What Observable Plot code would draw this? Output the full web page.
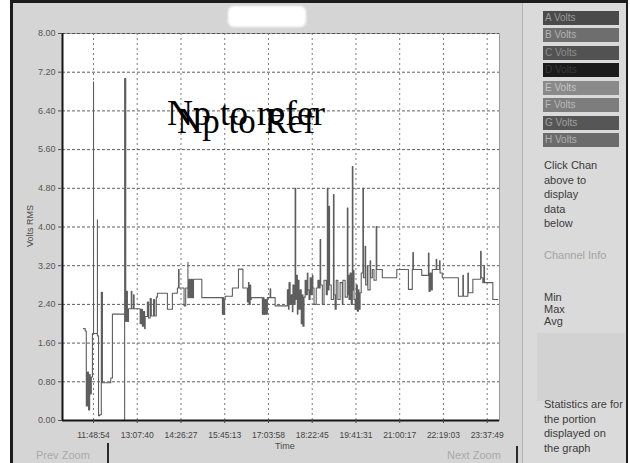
<!DOCTYPE html>
<html>
<head>
<meta charset="utf-8">
<script src="https://cdn.jsdelivr.net/npm/d3@7"></script>
<script src="https://cdn.jsdelivr.net/npm/@observablehq/plot@0.6"></script>
<style>
  html, body { margin: 0; padding: 0; }
  body { width: 630px; height: 463px; overflow: hidden; background: #fff; position: relative;
         font-family: "Liberation Sans", Arial, sans-serif; }
  .abs { position: absolute; }
  #frame { left: 10px; top: 0; width: 618px; height: 470px; box-sizing: border-box;
           border: 3px solid #1c1c1c; border-bottom: none; background: #d5d5d5; }
  #side { left: 522px; top: 3px; width: 103px; height: 460px; background: #dadada;
          border-left: 1px solid #b4b4b4; }
  #titlebox { left: 228px; top: 6px; width: 78px; height: 21px; background: #fff;
              border-radius: 6px; filter: blur(1px); }
  #chart { left: 0; top: 0; }
  .btn { left: 543px; width: 76px; height: 14px; font-size: 10px; line-height: 14px;
         padding-left: 2px; box-sizing: border-box; white-space: nowrap; overflow: hidden; }
  .side-text { left: 544px; font-size: 11px; line-height: 14.5px; color: #3a3a3a; }
  .zoomlink { font-size: 11px; color: #a9a9a9; top: 449px; }
  .sep { width: 2px; background: #2a2a2a; }
  .stamp { font-family: "Liberation Serif", "Times New Roman", serif; color: #000;
           line-height: 1; white-space: nowrap; }
  .axis-title { font-size: 9px; color: #4a4a4a; white-space: nowrap; }
</style>
</head>
<body>
<div id="frame" class="abs"></div>
<div id="side" class="abs"></div>
<div id="titlebox" class="abs"></div>
<div id="chart" class="abs"></div>
<div id="overlay"></div>
<script>
// Time axis tick labels (hh:mm:ss) and volt tick labels
const timeTicks = ["11:48:54", "13:07:40", "14:26:27", "15:45:13", "17:03:58",
                   "18:22:45", "19:41:31", "21:00:17", "22:19:03", "23:37:49"];
const voltTicks = ["0.00", "0.80", "1.60", "2.40", "3.20", "4.00",
                   "4.80", "5.60", "6.40", "7.20", "8.00"];

// Visible time window (hh:mm:ss)
const windowStart = "10:53:07";
const windowEnd = "24:00:00";

// Logged RMS readings: sample time and volts
const times = [
  "11:31","11:34","11:36","11:38","11:40","11:42","11:43","11:45","11:47","11:49",
  "11:49","11:56","11:56","11:58","12:00","12:03","12:05","12:20","12:23","12:45",
  "12:45","12:47","12:48","12:50","12:52","12:57","12:58","13:01","13:02","13:13",
  "13:15","13:17","13:19","13:21","13:22","13:26","13:28","13:31","13:33","13:37",
  "13:39","13:42","13:44","14:02","14:11","14:20","14:22","14:23","14:32","14:35",
  "14:39","14:39","14:41","14:43","14:45","14:47","14:49","15:04","15:41","15:42",
  "15:43","15:45","15:46","15:59","16:10","16:18","16:26","16:28","16:29","16:31",
  "16:32","16:33","16:53","16:55","16:56","16:58","17:00","17:02","17:07","17:08",
  "17:16","17:38","17:40","17:41","17:43","17:45","17:47","17:48","17:50","17:52",
  "17:53","17:54","17:56","17:57","17:59","18:01","18:03","18:05","18:06","18:08",
  "18:10","18:12","18:14","18:15","18:17","18:19","18:21","18:23","18:24","18:26",
  "18:30","18:33","18:35","18:37","18:38","18:41","18:44","18:48","18:50","18:51",
  "18:53","18:54","18:57","19:01","19:02","19:04","19:06","19:09","19:13","19:17",
  "19:18","19:22","19:26","19:27","19:28","19:29","19:31","19:33","19:35","19:36",
  "19:37","19:38","19:40","19:42","19:44","19:46","19:47","19:49","19:51","19:54",
  "19:55","19:58","19:59","20:02","20:03","20:07","20:08","20:11","20:14","20:18",
  "20:19","20:29","20:55","21:16","21:23","21:24","21:25","21:40","21:52","21:53",
  "21:55","21:57","21:59","22:06","22:07","22:12","22:13","22:17","22:46","22:54",
  "22:55","23:03","23:04","23:12","23:26","23:27","23:30","23:32","23:33","23:48",
  "23:57"
];
const volts = [
  1.90,1.85,0.30,1.00,0.22,0.95,0.55,0.90,1.80,7.00,
  1.80,4.15,1.75,0.10,0.12,2.65,0.78,0.88,2.20,0.00,
  7.07,2.05,2.67,2.05,2.31,2.67,2.31,2.60,2.31,2.00,
  2.30,1.95,2.25,1.90,2.15,2.45,2.12,2.52,2.16,2.50,
  2.16,2.55,2.63,2.30,2.63,2.74,3.12,2.74,2.37,2.74,
  3.27,2.54,2.92,2.54,2.92,2.54,2.92,2.54,2.20,2.54,
  2.19,2.50,2.57,2.74,3.13,2.74,2.45,2.85,2.40,2.80,
  2.50,2.54,2.20,2.54,2.19,2.50,2.20,2.54,2.72,2.54,
  2.37,2.70,2.30,2.85,2.40,2.60,2.25,2.80,2.40,4.80,
  2.50,3.00,2.20,2.90,2.30,2.70,2.00,2.60,1.95,2.55,
  2.90,2.60,3.05,2.70,2.50,2.95,2.60,3.00,2.74,2.40,
  2.74,2.90,2.74,3.74,2.80,2.40,2.90,2.60,4.80,2.70,
  4.43,2.80,2.50,4.67,2.60,2.30,2.90,2.50,2.85,2.40,
  2.90,2.55,4.39,2.60,3.00,2.50,3.05,2.40,5.25,2.70,
  3.10,2.50,2.30,2.80,2.26,2.70,2.30,2.64,3.05,4.80,
  2.95,3.60,2.80,3.20,2.70,3.30,2.95,3.12,2.90,4.01,
  3.12,2.95,3.12,2.71,3.12,3.47,3.12,3.00,3.46,2.67,
  3.05,2.70,3.12,3.33,3.12,3.30,3.05,2.95,2.57,3.00,
  2.57,3.05,2.64,2.92,3.50,2.95,2.85,3.20,2.85,2.50,
  2.50
];

// Channel selector buttons on the side panel
const channels = ["A Volts", "B Volts", "C Volts", "D Volts", "E Volts", "F Volts", "G Volts", "H Volts"];
const channelFill = ["#4a4a4a", "#6e6e6e", "#525252", "#1b1b1b", "#8a8a8a", "#7d7d7d", "#565656", "#6b6b6b"];
const channelInk = ["#9a9a9a", "#b4b4b4", "#8e8e8e", "#3a3a3a", "#c4c4c4", "#b9b9b9", "#a0a0a0", "#b0b0b0"];

const toSec = s => { const p = s.split(":").map(Number); return p[0] * 3600 + p[1] * 60 + (p[2] || 0); };

const readings = times.map((t, i) => ({ t: toSec(t), v: volts[i] }));
const xTickValues = timeTicks.map(toSec);
const xTickText = new Map(xTickValues.map((s, i) => [s, timeTicks[i]]));
const yTickValues = voltTicks.map(Number);
const xDomain = [toSec(windowStart), toSec(windowEnd)];

const chart = Plot.plot({
  width: 520,
  height: 463,
  marginLeft: 62,
  marginRight: 21,
  marginTop: 33,
  marginBottom: 43,
  style: { background: "transparent", fontFamily: "'Liberation Sans', Arial, sans-serif", overflow: "visible" },
  x: { type: "linear", domain: xDomain },
  y: { domain: [0, 8] },
  marks: [
    Plot.frame({ fill: "#fff", stroke: "#9a9a9a" }),
    Plot.gridY(yTickValues, { stroke: "#4d4d4d", strokeOpacity: 0.9, strokeDasharray: "3,2" }),
    Plot.gridX(xTickValues, { stroke: "#6d6d6d", strokeOpacity: 0.9, strokeDasharray: "2,3" }),
    Plot.lineY(readings, { x: "t", y: "v", curve: "step-after", stroke: "#5e5e5e", strokeWidth: 1.1 }),
    Plot.ruleX([xDomain[0]], { stroke: "#151515", strokeWidth: 2 }),
    Plot.ruleY([0], { stroke: "#151515", strokeWidth: 2 }),
    Plot.axisY(yTickValues, { tickFormat: d => d.toFixed(2), tickSize: 4, tickPadding: 3, fontSize: 9, color: "#555", label: null }),
    Plot.axisX(xTickValues, { tickFormat: d => xTickText.get(d), tickSize: 3, tickPadding: 8, fontSize: 8.5, color: "#444", label: null })
  ]
});
document.getElementById("chart").append(chart);

// Surrounding panel text and controls
const overlay = document.getElementById("overlay");
function addDiv(cls, text, css) {
  const d = document.createElement("div");
  d.className = "abs " + cls;
  d.textContent = text;
  Object.assign(d.style, css);
  overlay.append(d);
  return d;
}

addDiv("axis-title", "Time", { left: "275px", top: "441px" });
addDiv("axis-title", "Volts RMS", { left: "8px", top: "221px", width: "44px", textAlign: "center", transform: "rotate(-90deg)" });

const btnTops = [11, 28, 46, 63, 81, 98, 116, 133];
channels.forEach((c, i) => addDiv("btn", c, { top: btnTops[i] + "px", background: channelFill[i], color: channelInk[i] }));

["Click Chan", "above to", "display", "data", "below"].forEach((t, i) =>
  addDiv("side-text", t, { top: (158 + i * 14.5) + "px" }));
addDiv("side-text", "Channel Info", { top: "248px", color: "#a3a3a3" });
["Min", "Max", "Avg"].forEach((t, i) => addDiv("side-text", t, { top: (290 + i * 12) + "px" }));
addDiv("", "", { left: "537px", top: "333px", width: "88px", height: "68px", background: "#d2d2d2" });
["Statistics are for", "the portion", "displayed on", "the graph"].forEach((t, i) =>
  addDiv("side-text", t, { top: (397 + i * 14.5) + "px" }));

addDiv("zoomlink", "Prev Zoom", { left: "36px" });
addDiv("sep", "", { left: "107px", top: "443px", height: "20px" });
addDiv("zoomlink", "Next Zoom", { left: "447px" });
addDiv("sep", "", { left: "516px", top: "446px", height: "17px" });

addDiv("stamp", "Np to refer", { left: "167px", top: "95px", fontSize: "36px" });
addDiv("stamp", "Np to Ref", { left: "177px", top: "104px", fontSize: "35px" });
</script>
</body>
</html>
